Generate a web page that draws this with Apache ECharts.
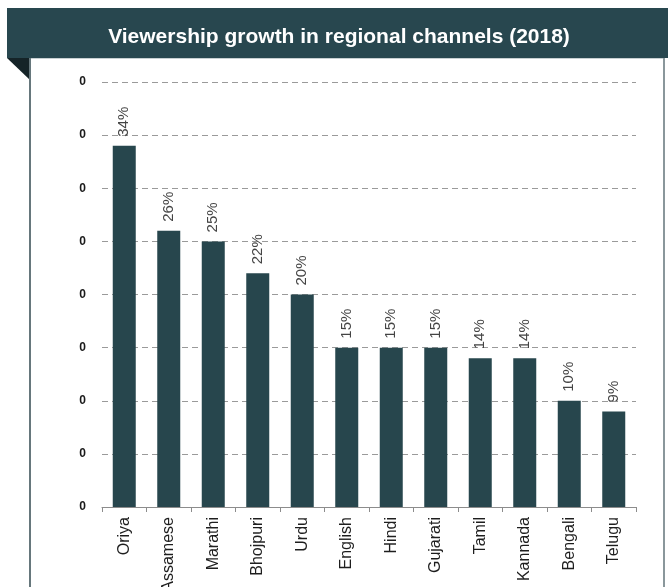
<!DOCTYPE html>
<html>
<head>
<meta charset="utf-8">
<script src="https://cdn.jsdelivr.net/npm/echarts@6/dist/echarts.min.js"></script>
<style>
html,body{margin:0;padding:0;background:#fff;}
#chart{width:668px;height:587px;}
</style>
</head>
<body>
<div id="chart"></div>
<script>
const categories = ['Oriya','Assamese','Marathi','Bhojpuri','Urdu','English','Hindi','Gujarati','Tamil','Kannada','Bengali','Telugu'];
const growth = [34, 26, 25, 22, 20, 15, 15, 15, 14, 14, 10, 9];
const yTickLabels = ['0','0','0','0','0','0','0','0','0'];
const titleText = 'Viewership growth in regional channels (2018)';

const chart = echarts.init(document.getElementById('chart'), null, {renderer: 'canvas'});
const FONT = '"Liberation Sans", Arial, sans-serif';
const tickStep = 5;

chart.setOption({
  animation: false,
  backgroundColor: '#ffffff',
  title: {
    text: titleText,
    left: 334,
    top: 22,
    textAlign: 'center',
    textStyle: {color: '#ffffff', fontFamily: FONT, fontWeight: 'bold', fontSize: 21}
  },
  graphic: [
    {type: 'rect', shape: {x: 7, y: 8, width: 661, height: 50}, style: {fill: '#28474f'}, z: 0},
    {type: 'polygon', shape: {points: [[7, 58], [30, 58], [30, 80]]}, style: {fill: '#152428'}, z: 1},
    {type: 'rect', shape: {x: 29, y: 58, width: 2, height: 529}, style: {fill: '#66777c'}, z: 1},
    {type: 'rect', shape: {x: 663, y: 58, width: 2, height: 529}, style: {fill: '#8a979b'}, z: 1},
    {type: 'rect', shape: {x: 31, y: 58, width: 632, height: 1}, style: {fill: '#c8d0d2'}, z: 1}
  ],
  grid: {left: 102, right: 32, top: 82, bottom: 80, containLabel: false, outerBoundsMode: 'none'},
  xAxis: {
    type: 'category',
    data: categories,
    axisLine: {show: true, lineStyle: {color: '#8c8c8c', width: 1}},
    axisTick: {show: true, alignWithLabel: false, length: 5, lineStyle: {color: '#8c8c8c'}},
    axisLabel: {
      rotate: 90, interval: 0, margin: 10, hideOverlap: false,
      color: '#1e1e1e', fontFamily: FONT, fontSize: 16
    }
  },
  yAxis: {
    type: 'value',
    min: 0, max: 40, interval: tickStep,
    axisLine: {show: false},
    axisTick: {show: false},
    splitLine: {show: true, lineStyle: {color: '#9a9a9a', type: [6, 4], width: 1}},
    axisLabel: {
      margin: 16,
      color: '#1a1a1a', fontFamily: FONT, fontSize: 12, fontWeight: 'bold',
      formatter: function (v) { return yTickLabels[Math.round(v / tickStep)]; }
    }
  },
  series: [{
    type: 'bar',
    data: growth,
    barWidth: 23,
    itemStyle: {color: '#27464d'},
    label: {
      show: true,
      position: 'top',
      rotate: 90,
      align: 'left',
      verticalAlign: 'middle',
      distance: 9,
      color: '#444444',
      fontFamily: FONT,
      fontSize: 15,
      formatter: function (p) { return p.value + '%'; }
    }
  }]
});
</script>
</body>
</html>
